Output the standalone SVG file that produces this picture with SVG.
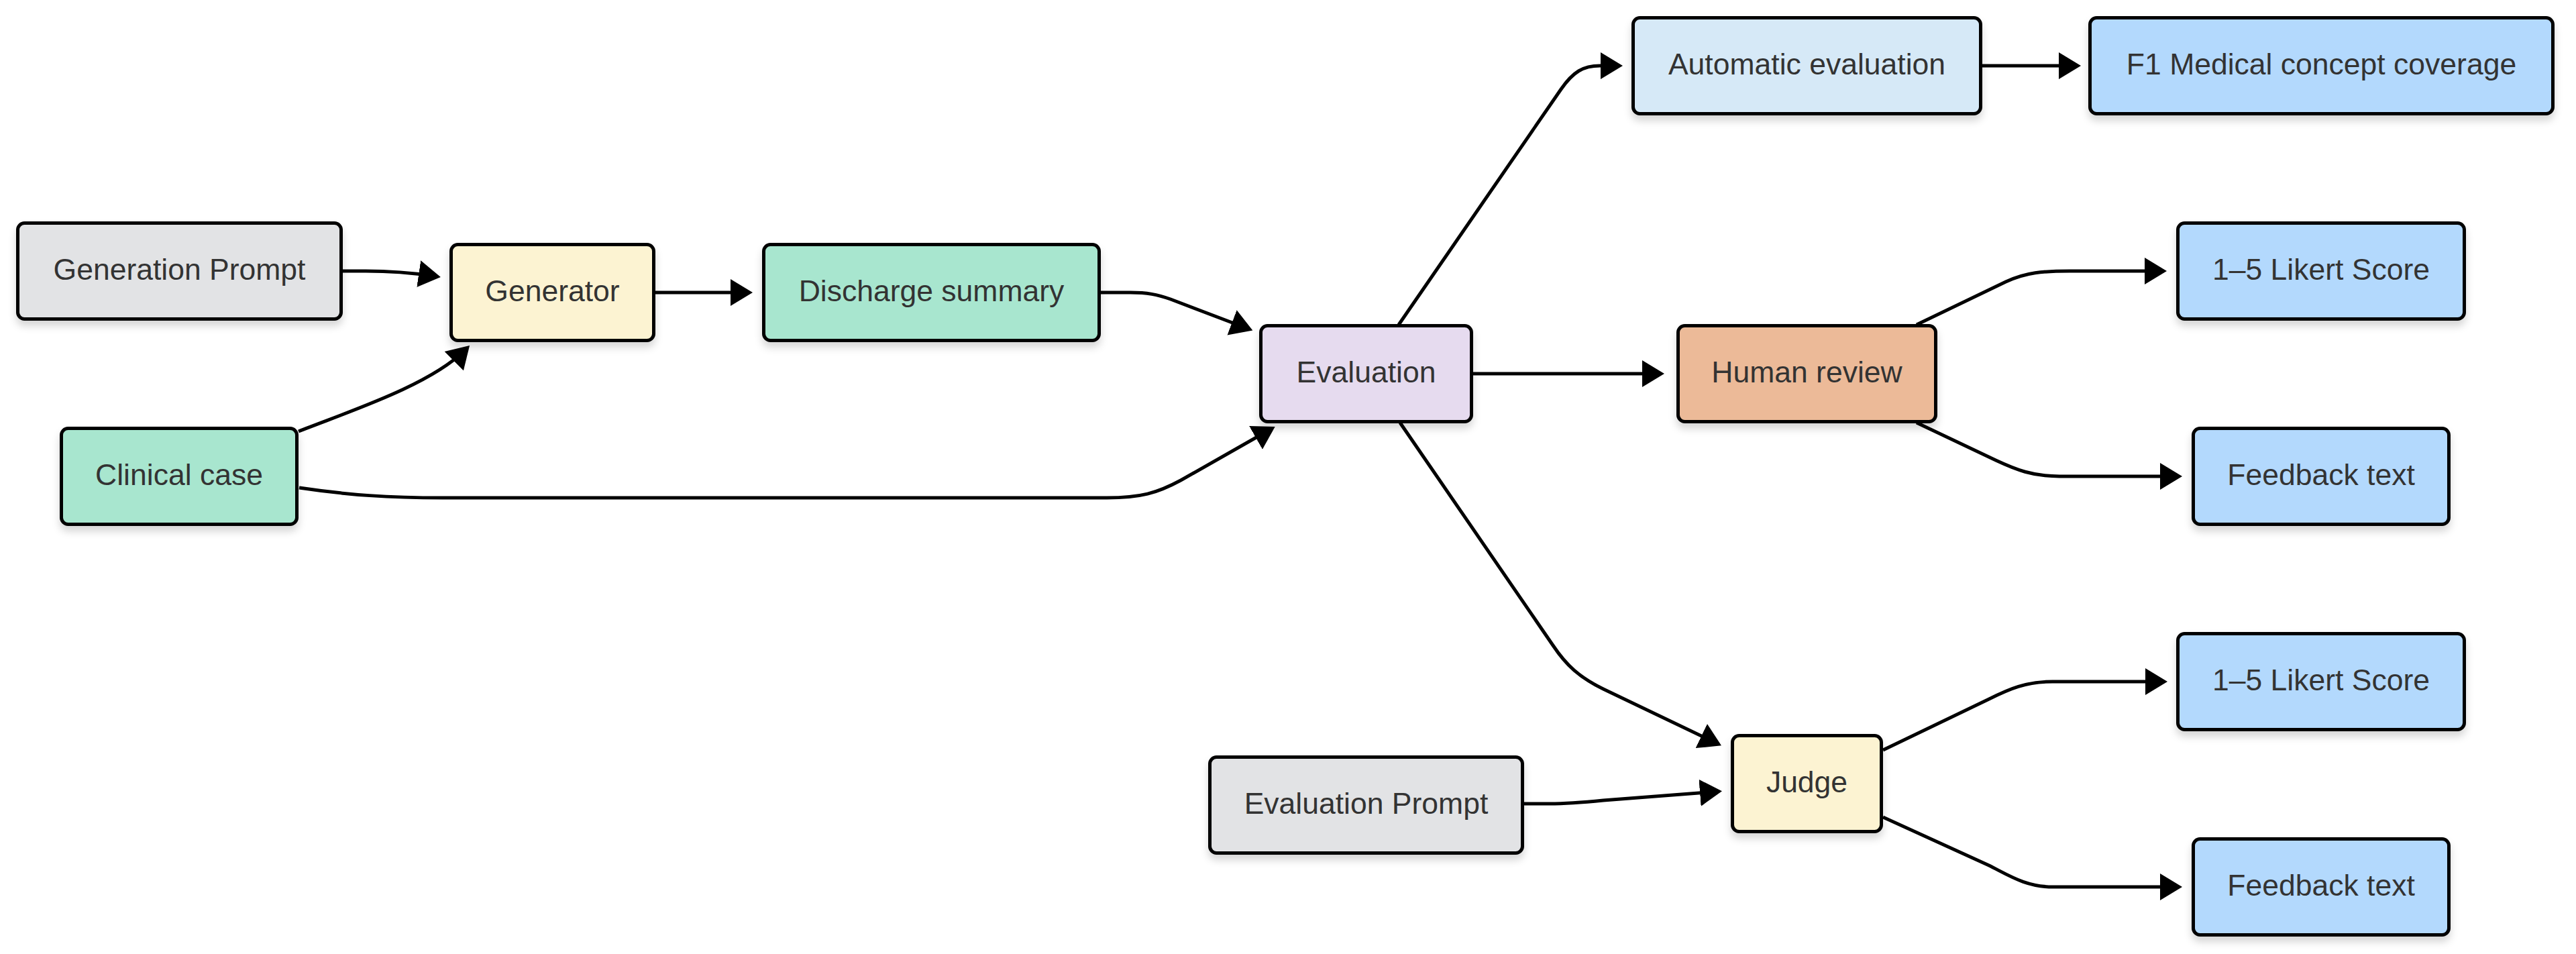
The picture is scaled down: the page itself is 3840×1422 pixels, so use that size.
<svg xmlns="http://www.w3.org/2000/svg" width="3840" height="1422" viewBox="0 0 3840 1422">
<defs>
<filter id="sh" x="-10%" y="-20%" width="120%" height="150%">
<feDropShadow dx="0" dy="8" stdDeviation="6" flood-color="#000" flood-opacity="0.16"/>
</filter>
<marker id="ah" markerUnits="userSpaceOnUse" markerWidth="34" markerHeight="42" viewBox="0 0 34 42" refX="23" refY="21" orient="auto">
<path d="M0,1 L33,21 L0,41 Z" fill="#000"/>
</marker>
<style>
.box{stroke:#000;stroke-width:5;filter:url(#sh)}
.lbl{font-family:"Liberation Sans",Arial,sans-serif;font-size:44.5px;fill:#333;text-anchor:middle}
.gray{fill:#e2e3e5}.yellow{fill:#fcf3d2}.green{fill:#a8e6cf}.lav{fill:#e6dbef}.lblue{fill:#d6e9f7}.blue{fill:#b3d9fd}.orange{fill:#ecba98}
.edge{fill:none;stroke:#000;stroke-width:5;marker-end:url(#ah)}
</style>
</defs>
<rect width="3840" height="1422" fill="#fff"/>
<g id="connectors">
<path class="edge" d="M511,404 L545,404 C580,404 610,406 647,411.5"/>
<path class="edge" d="M445,643 C515,615 640,575 693,522"/>
<path class="edge" d="M977,436 L1112,436"/>
<path class="edge" d="M1641,436 L1685,436 C1710,436 1725,439 1745,446 L1858,489"/>
<path class="edge" d="M446,727 C520,738 580,742 660,742 L1650,742 C1700,742 1725,735 1760,716 L1892,641"/>
<path class="edge" d="M2085,484 L2327,133 C2345,107 2360,98 2385,98 L2409,98"/>
<path class="edge" d="M2955,98 L3092,98"/>
<path class="edge" d="M2196,557 L2471,557"/>
<path class="edge" d="M2857,484 L2990,420 C3020,406 3045,404 3085,404 L3220,404"/>
<path class="edge" d="M2857,630 L2975,686 C3005,700 3030,710 3070,710 L3243,710"/>
<path class="edge" d="M2087,630 L2315,962 C2335,992 2355,1010 2390,1027 L2557,1107"/>
<path class="edge" d="M2272,1198 L2310,1198 C2340,1198 2360,1196 2390,1193 L2557,1180"/>
<path class="edge" d="M2807,1118 L2965,1042 C2995,1027 3020,1016 3060,1016 L3221,1016"/>
<path class="edge" d="M2807,1218 L2965,1290 C2995,1305 3020,1322 3060,1322 L3243,1322"/>
</g>
<g id="gen-prompt"><rect class="box gray" x="26.5" y="332.5" width="482" height="143" rx="10"/><text class="lbl" x="267.5" y="417">Generation Prompt</text></g>
<g id="generator"><rect class="box yellow" x="672.5" y="364.5" width="302" height="143" rx="10"/><text class="lbl" x="823.5" y="449">Generator</text></g>
<g id="discharge-summary"><rect class="box green" x="1138.5" y="364.5" width="500" height="143" rx="10"/><text class="lbl" x="1388.5" y="449">Discharge summary</text></g>
<g id="clinical-case"><rect class="box green" x="91.5" y="638.5" width="351" height="143" rx="10"/><text class="lbl" x="267" y="723">Clinical case</text></g>
<g id="evaluation"><rect class="box lav" x="1879.5" y="485.5" width="314" height="143" rx="10"/><text class="lbl" x="2036.5" y="570">Evaluation</text></g>
<g id="automatic-evaluation"><rect class="box lblue" x="2434.5" y="26.5" width="518" height="143" rx="10"/><text class="lbl" x="2693.5" y="111">Automatic evaluation</text></g>
<g id="f1-coverage"><rect class="box blue" x="3115.5" y="26.5" width="690" height="143" rx="10"/><text class="lbl" x="3460.5" y="111">F1 Medical concept coverage</text></g>
<g id="human-review"><rect class="box orange" x="2501.5" y="485.5" width="384" height="143" rx="10"/><text class="lbl" x="2693.5" y="570">Human review</text></g>
<g id="likert-human"><rect class="box blue" x="3246.5" y="332.5" width="427" height="143" rx="10"/><text class="lbl" x="3460" y="417">1–5 Likert Score</text></g>
<g id="feedback-human"><rect class="box blue" x="3269.5" y="638.5" width="381" height="143" rx="10"/><text class="lbl" x="3460" y="723">Feedback text</text></g>
<g id="likert-judge"><rect class="box blue" x="3246.5" y="944.5" width="427" height="143" rx="10"/><text class="lbl" x="3460" y="1029">1–5 Likert Score</text></g>
<g id="judge"><rect class="box yellow" x="2582.5" y="1096.5" width="222" height="143" rx="10"/><text class="lbl" x="2693.5" y="1181">Judge</text></g>
<g id="evaluation-prompt"><rect class="box gray" x="1803.5" y="1128.5" width="466" height="143" rx="10"/><text class="lbl" x="2036.5" y="1213">Evaluation Prompt</text></g>
<g id="feedback-judge"><rect class="box blue" x="3269.5" y="1250.5" width="381" height="143" rx="10"/><text class="lbl" x="3460" y="1335">Feedback text</text></g>
</svg>
